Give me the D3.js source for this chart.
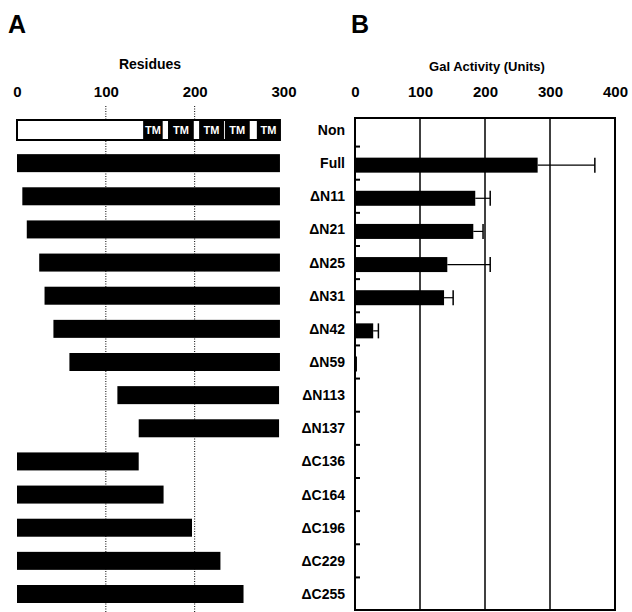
<!DOCTYPE html>
<html>
<head>
<meta charset="utf-8">
<script src="https://cdn.jsdelivr.net/npm/d3@7"></script>
<style>
  body { margin: 0; background: #fff; }
  svg { display: block; }
</style>
</head>
<body>
<script>
// constructs, top to bottom
var constructs = ["Non", "Full", "ΔN11", "ΔN21", "ΔN25", "ΔN31", "ΔN42", "ΔN59",
    "ΔN113", "ΔN137", "ΔC136", "ΔC164", "ΔC196", "ΔC229", "ΔC255"]
// residue span of each construct (panel A)
var startRes = [0, 0, 6, 11, 25, 31, 41, 59, 113, 137, 0, 0, 0, 0, 0]
var endRes = [296, 296, 296, 296, 296, 296, 296, 296, 295, 295, 137, 165, 197, 229, 255]
// transmembrane segments drawn on the "Non" bar
var tmStart = [142, 170, 205, 234, 270]
var tmEnd = [164, 199, 233, 262, 296]
// Gal activity (panel B) and upper error
var activity = [0, 281, 185, 182, 142, 137, 28, 3, 0, 0, 0, 0, 0, 0, 0]
var activityErr = [0, 88, 23, 15, 66, 14, 8, 0, 0, 0, 0, 0, 0, 0, 0]
// tick labels
var resTicks = [0, 100, 200, 300]
var galTicks = [0, 100, 200, 300, 400]

var rows = constructs.map(function(c, i) {
    return {
        name: c,
        start: startRes[i],
        end: endRes[i],
        act: activity[i],
        err: activityErr[i]
    }
})

var w = 632
var h = 612
var font = "'Liberation Sans', Arial, sans-serif"

var svg = d3.select("body")
    .append("svg")
    .attr("width", w)
    .attr("height", h)

// shared row scale
var yScale = d3.scalePoint()
    .domain(constructs)
    .range([130, 594])
var step = yScale.step()

// ---------- panel A ----------
var xA = d3.scaleLinear()
    .domain([0, 300])
    .range([17, 283.5])

svg.append("text")
    .text("A")
    .attr("x", 8)
    .attr("y", 33)
    .attr("font-size", 25)
    .attr("font-weight", "900")
    .attr("font-family", font)

svg.append("text")
    .text("Residues")
    .attr("x", 150)
    .attr("y", 69)
    .attr("text-anchor", "middle")
    .attr("font-size", 14)
    .attr("font-weight", "bold")
    .attr("font-family", font)

var axisA = svg.append("g")
    .attr("transform", "translate(0,97)")
    .call(d3.axisTop(xA).tickValues(resTicks).tickSize(0).tickPadding(0))
axisA.select(".domain").remove()
axisA.selectAll("text")
    .attr("font-size", 15)
    .attr("font-weight", "bold")
    .attr("font-family", font)
    .attr("fill", "#000")

// dotted guides at 100 and 200
svg.selectAll(".guide")
    .data([100, 200])
    .enter()
    .append("line")
    .attr("class", "guide")
    .attr("x1", function(d) { return xA(d) })
    .attr("x2", function(d) { return xA(d) })
    .attr("y1", 106)
    .attr("y2", h)
    .attr("stroke", "#000")
    .attr("stroke-width", 1)
    .attr("stroke-dasharray", "1,1.5")

var barH = 18

// "Non" bar: open box with TM blocks
var nonRow = rows[0]
svg.append("rect")
    .attr("x", xA(nonRow.start))
    .attr("y", yScale(nonRow.name) - 10)
    .attr("width", xA(nonRow.end) - xA(nonRow.start))
    .attr("height", 20)
    .attr("fill", "#fff")
    .attr("stroke", "#000")
    .attr("stroke-width", 2)

var tm = tmStart.map(function(s, i) { return { s: s, e: tmEnd[i] } })
svg.selectAll(".tm")
    .data(tm)
    .enter()
    .append("rect")
    .attr("class", "tm")
    .attr("x", function(d) { return xA(d.s) })
    .attr("y", yScale("Non") - 10)
    .attr("width", function(d) { return xA(d.e) - xA(d.s) })
    .attr("height", 20)
    .attr("fill", "#000")

svg.selectAll(".tmlabel")
    .data(tm)
    .enter()
    .append("text")
    .attr("class", "tmlabel")
    .text("TM")
    .attr("x", function(d) { return (xA(d.s) + xA(d.e)) / 2 })
    .attr("y", yScale("Non") + 4)
    .attr("text-anchor", "middle")
    .attr("font-size", 11)
    .attr("font-weight", "bold")
    .attr("font-family", font)
    .attr("fill", "#fff")

// construct bars
svg.selectAll(".resbar")
    .data(rows.slice(1))
    .enter()
    .append("rect")
    .attr("class", "resbar")
    .attr("x", function(d) { return xA(d.start) })
    .attr("y", function(d) { return yScale(d.name) - barH / 2 })
    .attr("width", function(d) { return xA(d.end) - xA(d.start) })
    .attr("height", barH)
    .attr("fill", "#000")

// construct names
svg.selectAll(".rowlabel")
    .data(rows)
    .enter()
    .append("text")
    .attr("class", "rowlabel")
    .text(function(d) { return d.name })
    .attr("x", 345)
    .attr("y", function(d) { return yScale(d.name) + 5 })
    .attr("text-anchor", "end")
    .attr("font-size", 14)
    .attr("font-weight", "bold")
    .attr("font-family", font)

// ---------- panel B ----------
var xB = d3.scaleLinear()
    .domain([0, 400])
    .range([355, 615])
var boxTop = 118
var boxBottom = 610

svg.append("text")
    .text("B")
    .attr("x", 351)
    .attr("y", 33)
    .attr("font-size", 25)
    .attr("font-weight", "900")
    .attr("font-family", font)

svg.append("text")
    .text("Gal Activity (Units)")
    .attr("x", 487)
    .attr("y", 71)
    .attr("text-anchor", "middle")
    .attr("font-size", 13)
    .attr("font-weight", "bold")
    .attr("font-family", font)

var axisB = svg.append("g")
    .attr("transform", "translate(0,97)")
    .call(d3.axisTop(xB).tickValues(galTicks).tickSize(0).tickPadding(0))
axisB.select(".domain").remove()
axisB.selectAll("text")
    .attr("font-size", 15)
    .attr("font-weight", "bold")
    .attr("font-family", font)
    .attr("fill", "#000")

// vertical grid lines
svg.selectAll(".grid")
    .data(galTicks.slice(1, -1))
    .enter()
    .append("line")
    .attr("class", "grid")
    .attr("x1", function(d) { return xB(d) })
    .attr("x2", function(d) { return xB(d) })
    .attr("y1", boxTop)
    .attr("y2", boxBottom)
    .attr("stroke", "#000")
    .attr("stroke-width", 1.5)

svg.append("rect")
    .attr("x", xB(0))
    .attr("y", boxTop)
    .attr("width", xB(400) - xB(0))
    .attr("height", boxBottom - boxTop)
    .attr("fill", "none")
    .attr("stroke", "#000")
    .attr("stroke-width", 2)

// small ticks between rows on the left edge
svg.selectAll(".rowtick")
    .data(constructs.slice(1))
    .enter()
    .append("line")
    .attr("class", "rowtick")
    .attr("x1", xB(0))
    .attr("x2", xB(0) + 5)
    .attr("y1", function(d) { return yScale(d) - step / 2 })
    .attr("y2", function(d) { return yScale(d) - step / 2 })
    .attr("stroke", "#000")
    .attr("stroke-width", 2)

var galH = 15
var withAct = rows.filter(function(d) { return d.act > 0 })

svg.selectAll(".galbar")
    .data(withAct)
    .enter()
    .append("rect")
    .attr("class", "galbar")
    .attr("x", xB(0))
    .attr("y", function(d) { return yScale(d.name) - galH / 2 + 2 })
    .attr("width", function(d) { return xB(d.act) - xB(0) })
    .attr("height", galH)
    .attr("fill", "#000")

// error bars
var withErr = withAct.filter(function(d) { return d.err > 0 })
svg.selectAll(".errline")
    .data(withErr)
    .enter()
    .append("line")
    .attr("class", "errline")
    .attr("x1", function(d) { return xB(d.act) })
    .attr("x2", function(d) { return xB(d.act + d.err) })
    .attr("y1", function(d) { return yScale(d.name) + 2 })
    .attr("y2", function(d) { return yScale(d.name) + 2 })
    .attr("stroke", "#000")
    .attr("stroke-width", 1.2)

svg.selectAll(".errcap")
    .data(withErr)
    .enter()
    .append("line")
    .attr("class", "errcap")
    .attr("x1", function(d) { return xB(d.act + d.err) })
    .attr("x2", function(d) { return xB(d.act + d.err) })
    .attr("y1", function(d) { return yScale(d.name) + 2 - galH / 2 })
    .attr("y2", function(d) { return yScale(d.name) + 2 + galH / 2 })
    .attr("stroke", "#000")
    .attr("stroke-width", 1.5)
</script>
</body>
</html>
